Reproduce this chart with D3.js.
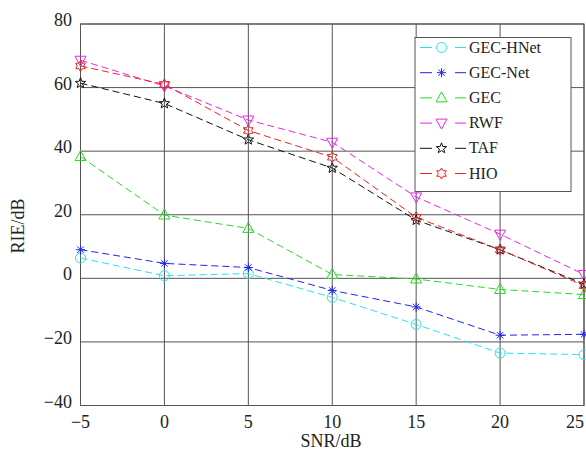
<!DOCTYPE html>
<html>
  <head>
    <script src="https://cdnjs.cloudflare.com/ajax/libs/d3/7.8.5/d3.min.js"></script>
    <style>
      body {
        margin: 0;
        background: #fff;
      }
      svg text {
        font-family: "Liberation Serif", "Times New Roman", "DejaVu Serif", serif;
        fill: #222;
      }
      .grid line {
        stroke: #555;
        stroke-width: 1px;
      }
    </style>
  </head>
  <body>
    <svg id="chart" width="586" height="453"></svg>
    <script>
      // data
      const snr = [-5, 0, 5, 10, 15, 20, 25];
      const gecHNet = [6.4, 0.8, 1.5, -6, -14.5, -23.5, -24];
      const gecNet = [9, 4.7, 3.4, -3.8, -9, -17.9, -17.6];
      const gec = [38.3, 19.9, 15.7, 1.2, -0.2, -3.5, -5.1];
      const rwf = [68.6, 60.5, 49.8, 42.8, 25.6, 13.9, 1.2];
      const taf = [61.4, 55, 43.6, 34.7, 18.3, 9, -1.8];
      const hio = [66.8, 61, 46.5, 38.1, 19.2, 9, -2.3];

      const xTicks = [-5, 0, 5, 10, 15, 20, 25];
      const yTicks = [-40, -20, 0, 20, 40, 60, 80];

      const series = [
        { name: "GEC-HNet", values: gecHNet, color: "#22e6e6", marker: "circle" },
        { name: "GEC-Net", values: gecNet, color: "#2222ee", marker: "asterisk" },
        { name: "GEC", values: gec, color: "#22dd22", marker: "triangle" },
        { name: "RWF", values: rwf, color: "#ee22ee", marker: "triangleDown" },
        { name: "TAF", values: taf, color: "#111", marker: "pentagram" },
        { name: "HIO", values: hio, color: "#ee2222", marker: "hexagram" },
      ];

      const serif = '"Liberation Serif", "Times New Roman", "DejaVu Serif", serif';
      const svg = d3.select("#chart").attr("font-family", serif);
      const pLeft = 80.5, pRight = 584, pTop = 24, pBottom = 405.5;

      const x = d3.scaleLinear().domain([-5, 25]).range([pLeft, pRight]);
      const y = d3.scaleLinear().domain([-40, 80]).range([pBottom, pTop]);

      // grid
      const grid = svg.append("g").attr("class", "grid");
      grid
        .selectAll("line.v")
        .data(xTicks)
        .enter()
        .append("line")
        .attr("x1", (d) => x(d))
        .attr("x2", (d) => x(d))
        .attr("y1", pTop)
        .attr("y2", pBottom);
      grid
        .selectAll("line.h")
        .data(yTicks)
        .enter()
        .append("line")
        .attr("x1", pLeft)
        .attr("x2", pRight)
        .attr("y1", (d) => y(d))
        .attr("y2", (d) => y(d));

      svg
        .append("rect")
        .attr("x", pLeft)
        .attr("y", pTop)
        .attr("width", pRight - pLeft)
        .attr("height", pBottom - pTop)
        .attr("fill", "none")
        .attr("stroke", "#555");

      // tick labels
      const fmt = (d) => (d < 0 ? "\u2212" + Math.abs(d) : d);
      svg
        .selectAll("text.xt")
        .data(xTicks)
        .enter()
        .append("text")
        .attr("x", (d) => Math.min(x(d), 575))
        .attr("y", 428)
        .attr("text-anchor", "middle")
        .style("font-family", serif)
        .style("font-size", "18px")
        .text(fmt);
      svg
        .selectAll("text.yt")
        .data(yTicks)
        .enter()
        .append("text")
        .attr("x", 72)
        .attr("y", (d) => y(d) + 2)
        .attr("text-anchor", "end")
        .style("font-family", serif)
        .style("font-size", "18px")
        .text(fmt);

      svg
        .append("text")
        .attr("x", 331)
        .attr("y", 447)
        .attr("text-anchor", "middle")
        .style("font-family", serif)
        .style("font-size", "18px")
        .text("SNR/dB");
      svg
        .append("text")
        .attr("transform", "translate(23.5,226) rotate(-90)")
        .attr("text-anchor", "middle")
        .style("font-family", serif)
        .style("font-size", "18px")
        .text("RIE/dB");

      // marker shapes
      function starPath(n, ro, ri) {
        const pts = [];
        for (let i = 0; i < n * 2; i++) {
          const r = i % 2 === 0 ? ro : ri;
          const a = (Math.PI * i) / n - Math.PI / 2;
          pts.push([r * Math.cos(a), r * Math.sin(a)]);
        }
        return "M" + pts.map((p) => p.join(",")).join("L") + "Z";
      }
      function drawMarker(g, type, color) {
        if (type === "circle") {
          g.append("circle").attr("r", 5).attr("fill", "none").attr("stroke", color);
        } else if (type === "asterisk") {
          const r = 4.5, k = r * 0.707;
          g.append("path")
            .attr("d", `M${-r},0H${r}M0,${-r}V${r}M${-k},${-k}L${k},${k}M${-k},${k}L${k},${-k}`)
            .attr("stroke", color);
        } else if (type === "triangle") {
          g.append("path").attr("d", "M0,-6L5.5,4L-5.5,4Z").attr("fill", "none").attr("stroke", color);
        } else if (type === "triangleDown") {
          g.append("path").attr("d", "M0,6L5.5,-4L-5.5,-4Z").attr("fill", "none").attr("stroke", color);
        } else if (type === "pentagram") {
          g.append("path").attr("d", starPath(5, 5.5, 2.3)).attr("fill", "none").attr("stroke", color);
        } else if (type === "hexagram") {
          g.append("path").attr("d", starPath(6, 5.5, 3.2)).attr("fill", "none").attr("stroke", color);
        }
      }

      const line = d3
        .line()
        .x((d, i) => x(snr[i]))
        .y((d) => y(d));

      series.forEach((s) => {
        svg
          .append("path")
          .attr("d", line(s.values))
          .attr("fill", "none")
          .attr("stroke", s.color)
          .attr("stroke-width", 1)
          .attr("stroke-dasharray", "7,4");
        s.values.forEach((v, i) => {
          const g = svg.append("g").attr("transform", `translate(${x(snr[i])},${y(v)})`);
          drawMarker(g, s.marker, s.color);
        });
      });

      // legend
      const lg = svg.append("g");
      lg.append("rect")
        .attr("x", 415)
        .attr("y", 37.5)
        .attr("width", 156)
        .attr("height", 154)
        .attr("fill", "#fff")
        .attr("stroke", "#555");
      series.forEach((s, i) => {
        const cy = 47.5 + i * 25.2;
        [[420, 432], [455, 466]].forEach(([a, b]) => {
          lg.append("line")
            .attr("x1", a)
            .attr("x2", b)
            .attr("y1", cy)
            .attr("y2", cy)
            .attr("stroke", s.color);
        });
        drawMarker(lg.append("g").attr("transform", `translate(441.5,${cy})`), s.marker, s.color);
        lg.append("text")
          .attr("x", 469)
          .attr("y", cy + 5)
          .style("font-family", serif)
          .style("font-size", "16px")
          .text(s.name);
      });
    </script>
  </body>
</html>
